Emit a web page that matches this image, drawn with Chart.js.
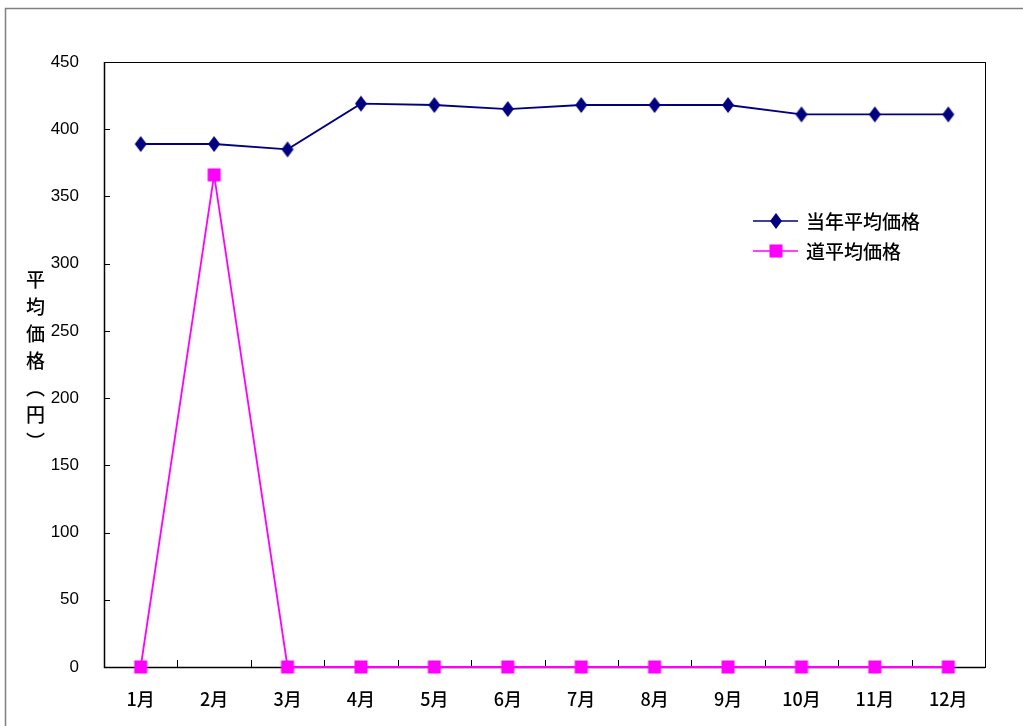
<!DOCTYPE html>
<html>
<head>
<meta charset="utf-8">
<script src="https://cdn.jsdelivr.net/npm/chart.js@4/dist/chart.umd.min.js"></script>
<style>
  html, body { margin: 0; padding: 0; background: #fff; }
  #wrap { position: relative; width: 1023px; height: 726px; overflow: hidden; }
  #chart { position: absolute; left: 0; top: 0; }
  #ytitle {
    position: absolute; left: 22px; top: 270px;
    writing-mode: vertical-rl;
    font-family: "Noto Sans CJK JP", sans-serif;
    font-size: 19px; font-weight: 500; letter-spacing: 8px; color: #000;
  }
</style>
</head>
<body>
<div id="wrap">
  <canvas id="chart" width="1023" height="726"></canvas>
  <div id="ytitle">平均価格（円）</div>
</div>
<script>
// -----------------------------
// Data
// -----------------------------
const months = ['1月', '2月', '3月', '4月', '5月', '6月', '7月', '8月', '9月', '10月', '11月', '12月'];
const thisYearAvg = [389, 389, 385, 419, 418, 415, 418, 418, 418, 411, 411, 411];
const hokkaidoAvg = [0, 366, 0, 0, 0, 0, 0, 0, 0, 0, 0, 0];
const seriesNames = ['当年平均価格', '道平均価格'];
const yMin = 0, yMax = 450, yStep = 50;

const NAVY = '#000080';
const MAGENTA = '#FF00FF';
const JP_FONT = '"Noto Sans CJK JP", sans-serif';

function drawMarker(ctx, style, x, y, color) {
    ctx.save();
    ctx.fillStyle = color;
    ctx.beginPath();
    if (style === 'diamond') {
        ctx.moveTo(x, y - 8);
        ctx.lineTo(x + 6, y);
        ctx.lineTo(x, y + 8);
        ctx.lineTo(x - 6, y);
        ctx.closePath();
    } else {
        ctx.rect(x - 6.5, y - 6.5, 13, 13);
    }
    ctx.fill();
    ctx.restore();
}

// frame, plot border, inside ticks, legend
const decorations = {
    id: 'decorations',
    beforeDraw(chart) {
        const ctx = chart.ctx;
        ctx.save();
        ctx.strokeStyle = '#808080';
        ctx.lineWidth = 1.5;
        ctx.strokeRect(5.5, 8.5, 1200, 900);
        ctx.restore();
    },
    beforeDatasetsDraw(chart) {
        const ctx = chart.ctx;
        const a = chart.chartArea;
        const xs = chart.scales.x, ys = chart.scales.y;
        ctx.save();
        ctx.strokeStyle = '#000';
        ctx.lineWidth = 1;
        ctx.strokeRect(a.left + 0.5, a.top + 0.5, a.right - a.left, a.bottom - a.top);
        ctx.lineWidth = 1.5;
        ctx.beginPath();
        ctx.moveTo(a.left + 0.5, a.top);
        ctx.lineTo(a.left + 0.5, a.bottom + 0.5);
        ctx.lineTo(a.right, a.bottom + 0.5);
        ctx.stroke();
        ctx.lineWidth = 1;
        ctx.beginPath();
        for (let v = yMin; v <= yMax; v += yStep) {
            const y = Math.round(ys.getPixelForValue(v)) + 0.5;
            ctx.moveTo(a.left, y);
            ctx.lineTo(a.left + 6, y);
        }
        for (let i = 1; i < months.length; i++) {
            const x = Math.round((xs.getPixelForValue(i - 1) + xs.getPixelForValue(i)) / 2) + 0.5;
            ctx.moveTo(x, a.bottom);
            ctx.lineTo(x, a.bottom - 7);
        }
        ctx.stroke();
        ctx.restore();
    },
    afterDatasetsDraw(chart) {
        const ctx = chart.ctx;
        ctx.save();
        // legend
        const rows = [
            { name: seriesNames[0], color: NAVY, style: 'diamond', y: 221 },
            { name: seriesNames[1], color: MAGENTA, style: 'square', y: 251 }
        ];
        rows.forEach(r => {
            ctx.strokeStyle = r.color;
            ctx.lineWidth = 1.5;
            ctx.beginPath();
            ctx.moveTo(753, r.y);
            ctx.lineTo(798, r.y);
            ctx.stroke();
            drawMarker(ctx, r.style, 776, r.y, r.color);
            ctx.fillStyle = '#000';
            ctx.font = '500 19px ' + JP_FONT;
            ctx.textBaseline = 'middle';
            ctx.textAlign = 'left';
            ctx.fillText(r.name, 806, r.y + 1);
        });
        ctx.restore();
    }
};

function markerCanvas(style, color) {
    const c = document.createElement('canvas');
    c.width = 18; c.height = 18;
    drawMarker(c.getContext('2d'), style, 9, 9, color);
    return c;
}

new Chart(document.getElementById('chart'), {
    type: 'line',
    data: {
        labels: months,
        datasets: [
            {
                label: seriesNames[0],
                data: thisYearAvg,
                borderColor: NAVY,
                backgroundColor: NAVY,
                borderWidth: 1.8,
                pointStyle: markerCanvas('diamond', NAVY),
                clip: false,
                tension: 0
            },
            {
                label: seriesNames[1],
                data: hokkaidoAvg,
                borderColor: MAGENTA,
                backgroundColor: MAGENTA,
                borderWidth: 1.8,
                pointStyle: markerCanvas('square', MAGENTA),
                clip: false,
                tension: 0
            }
        ]
    },
    options: {
        responsive: false,
        animation: false,
        layout: { padding: { left: 0, right: 38, top: 62, bottom: 0 } },
        plugins: { legend: { display: false }, tooltip: { enabled: false } },
        scales: {
            x: {
                offset: true,
                grid: { display: false },
                border: { display: false },
                ticks: {
                    color: '#000',
                    font: { family: JP_FONT, size: 18, weight: '500' },
                    padding: 13,
                    maxRotation: 0
                },
                afterFit(scale) { scale.height = 59; }
            },
            y: {
                min: yMin,
                max: yMax,
                grid: { display: false },
                border: { display: false },
                ticks: {
                    stepSize: yStep,
                    color: '#000',
                    font: { family: '"Liberation Sans", Arial, sans-serif', size: 17 },
                    padding: 17
                },
                afterFit(scale) { scale.width = 104; }
            }
        }
    },
    plugins: [decorations]
});
</script>
</body>
</html>
